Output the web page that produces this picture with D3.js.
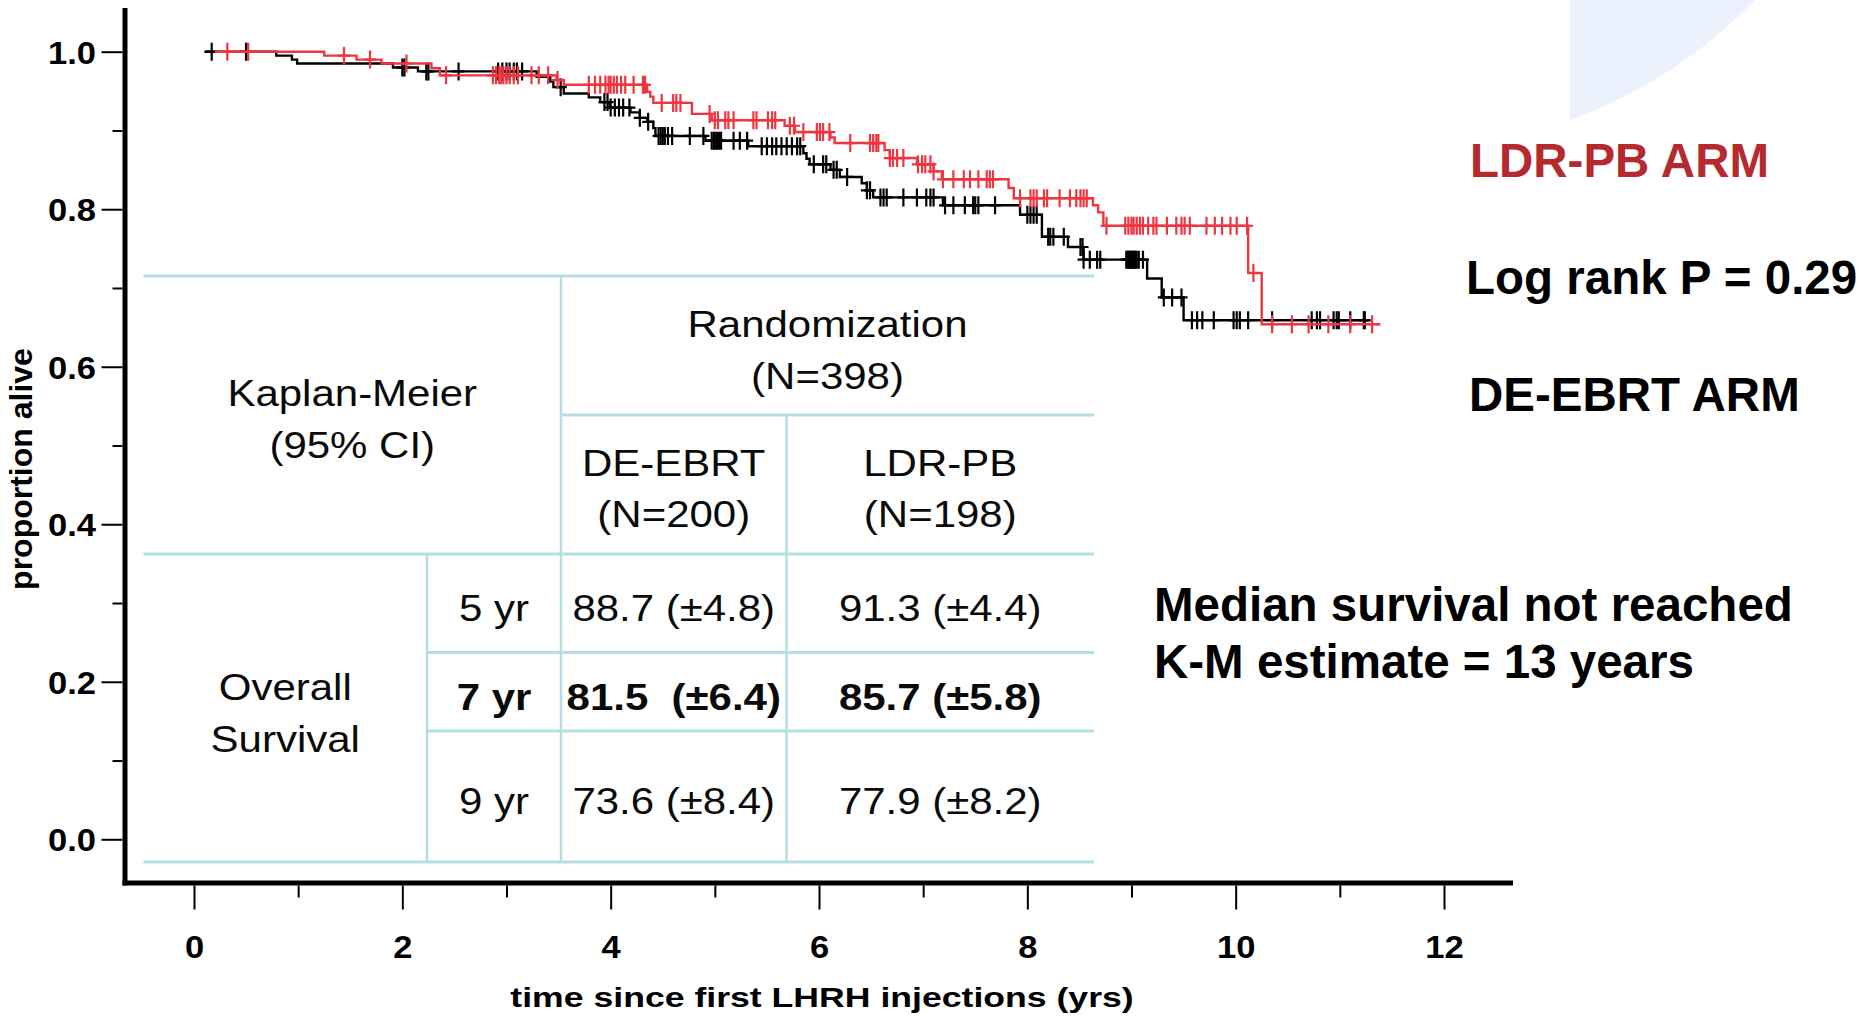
<!DOCTYPE html>
<html>
<head>
<meta charset="utf-8">
<script src="https://cdn.jsdelivr.net/npm/d3@7"></script>
<style>
  html, body { margin: 0; padding: 0; background: #fff; }
  svg { display: block; }
  text { font-family: "Liberation Sans", Arial, Helvetica, sans-serif; }
</style>
</head>
<body>
<svg id="chart" width="1876" height="1017"></svg>
<script>
// ---- Kaplan-Meier data: [time (yrs), proportion alive after the step] ----
const deebrtSteps = [
  [0.10, 1.000], [0.79, 0.995], [0.94, 0.990], [0.99, 0.985], [1.91, 0.980],
  [2.15, 0.975], [3.29, 0.968], [3.42, 0.962], [3.45, 0.955], [3.55, 0.947],
  [3.79, 0.942], [3.90, 0.936], [3.99, 0.929], [4.19, 0.923], [4.28, 0.916],
  [4.35, 0.911], [4.41, 0.903], [4.43, 0.893], [4.91, 0.887], [5.32, 0.880],
  [5.85, 0.871], [5.88, 0.864], [5.91, 0.857], [6.11, 0.850], [6.20, 0.841],
  [6.41, 0.833], [6.46, 0.824], [6.52, 0.815], [7.19, 0.805], [7.93, 0.793],
  [8.14, 0.765], [8.39, 0.752], [8.54, 0.736], [9.15, 0.712], [9.29, 0.688],
  [9.50, 0.659]
];
const deebrtEnd = 11.29;
const deebrtCensored = [
  0.17, 0.50, 2.00, 2.02, 2.23, 2.25, 2.54, 2.92, 2.96, 3.00, 3.03, 3.07, 3.10, 3.15,
  3.52, 3.94, 3.97, 4.00, 4.04, 4.08, 4.12, 4.18, 4.28, 4.36, 4.46, 4.48, 4.50, 4.52,
  4.55, 4.59, 4.76, 4.89, 4.97, 4.99, 5.00, 5.02, 5.04, 5.06, 5.18, 5.24, 5.31, 5.45,
  5.50, 5.55, 5.59, 5.64, 5.69, 5.74, 5.79, 5.82, 5.95, 6.04, 6.07, 6.14, 6.17, 6.27,
  6.46, 6.49, 6.59, 6.62, 6.65, 6.81, 6.94, 7.03, 7.07, 7.10, 7.21, 7.29, 7.40, 7.48,
  7.50, 7.53, 7.69, 8.00, 8.03, 8.06, 8.09, 8.20, 8.22, 8.25, 8.35, 8.51, 8.53, 8.54,
  8.60, 8.67, 8.70, 8.95, 8.96, 8.97, 8.98, 8.99, 9.00, 9.01, 9.02, 9.03, 9.04, 9.05,
  9.07, 9.11, 9.31, 9.39, 9.48, 9.58, 9.63, 9.68, 9.79, 9.98, 10.01, 10.04, 10.12,
  10.35, 10.73, 10.78, 10.81, 10.94, 10.97, 10.99, 11.10, 11.23, 11.24
];

const ldrpbSteps = [
  [0.20, 1.000], [1.25, 0.995], [1.56, 0.990], [1.80, 0.985], [2.28, 0.979],
  [2.36, 0.970], [3.48, 0.964], [3.55, 0.958], [4.35, 0.949], [4.38, 0.943],
  [4.41, 0.935], [4.78, 0.921], [4.97, 0.913], [5.67, 0.906], [5.77, 0.898],
  [6.11, 0.891], [6.15, 0.884], [6.63, 0.875], [6.68, 0.865], [6.94, 0.857],
  [7.10, 0.848], [7.18, 0.838], [7.82, 0.827], [7.87, 0.814], [8.63, 0.805],
  [8.68, 0.796], [8.73, 0.779], [10.12, 0.719], [10.25, 0.654]
];
const ldrpbEnd = 11.39;
const ldrpbCensored = [
  0.32, 0.52, 1.44, 1.69, 2.04, 2.42, 2.87, 2.90, 2.93, 2.95, 2.97, 3.00, 3.03, 3.07,
  3.11, 3.24, 3.31, 3.40, 3.49, 3.79, 3.85, 3.90, 3.95, 3.98, 4.00, 4.03, 4.06, 4.10,
  4.14, 4.22, 4.31, 4.33, 4.49, 4.60, 4.63, 4.67, 4.95, 5.00, 5.03, 5.10, 5.13, 5.18,
  5.37, 5.40, 5.51, 5.55, 5.58, 5.72, 5.76, 5.85, 5.98, 6.01, 6.04, 6.10, 6.30, 6.49,
  6.52, 6.55, 6.57, 6.68, 6.71, 6.75, 6.81, 6.95, 6.99, 7.02, 7.07, 7.10, 7.19, 7.29,
  7.39, 7.45, 7.53, 7.61, 7.64, 7.67, 7.93, 8.03, 8.06, 8.09, 8.16, 8.19, 8.31, 8.41,
  8.47, 8.51, 8.54, 8.57, 8.76, 8.94, 8.97, 9.00, 9.02, 9.05, 9.08, 9.11, 9.16, 9.21,
  9.24, 9.34, 9.43, 9.48, 9.51, 9.56, 9.72, 9.80, 9.87, 9.95, 10.01, 10.11, 10.17,
  10.35, 10.54, 10.70, 10.89, 11.10, 11.31
];

// ---- axes ----
const xTicks = [0, 2, 4, 6, 8, 10, 12];
const xMinorTicks = [1, 3, 5, 7, 9, 11];
const yTicks = [0.0, 0.2, 0.4, 0.6, 0.8, 1.0];
const yMinorTicks = [0.1, 0.3, 0.5, 0.7, 0.9];
const xTitle = "time since first LHRH injections (yrs)";
const yTitle = "proportion alive";

// ---- summary table ----
const kmHeader = ["Kaplan-Meier", "(95% CI)"];
const randHeader = ["Randomization", "(N=398)"];
const armHeaders = [["DE-EBRT", "(N=200)"], ["LDR-PB", "(N=198)"]];
const rowGroup = ["Overall", "Survival"];
const horizons = ["5 yr", "7 yr", "9 yr"];
const deebrtKM = [88.7, 81.5, 73.6];
const deebrtCI = [4.8, 6.4, 8.4];
const ldrpbKM = [91.3, 85.7, 77.9];
const ldrpbCI = [4.4, 5.8, 8.2];
const boldRow = 1;

// ---- annotations ----
const armLabels = ["LDR-PB ARM", "DE-EBRT ARM"];
const logRank = "Log rank P = 0.29";
const medianNote = ["Median survival not reached", "K-M estimate = 13 years"];

const RED = "#ee3640";
const TABLE_LINE = "#b5dfe3";

const svg = d3.select("#chart");
svg.append("rect").attr("width", 1876).attr("height", 1017).attr("fill", "#fff");

// decorative pale-blue disc edge in the top right corner
svg.append("path")
  .attr("d", "M1570,0 V120 A492,492 0 0 0 1755,0 Z")
  .attr("fill", "#ebf1fd");

const x = d3.scaleLinear().domain([0, 12]).range([194, 1444]);
const y = d3.scaleLinear().domain([0, 1]).range([839.3, 51.7]);

// ---- axes ----
const xAxisY = 885.5;
const yAxisX = 122.5;

const xg = svg.append("g").attr("transform", `translate(0,${xAxisY})`);
xg.call(d3.axisBottom(x).tickValues(xTicks).tickSize(24).tickSizeOuter(0).tickFormat(d3.format("d")));
xg.append("g").call(d3.axisBottom(x).tickValues(xMinorTicks).tickSize(12).tickSizeOuter(0).tickFormat(""));
xg.selectAll(".domain").remove();
xg.selectAll("line").attr("stroke", "#000").attr("stroke-width", 2);
xg.selectAll("text")
  .attr("y", null).attr("dy", null)
  .attr("transform", "translate(0,72) scale(1.08,1)")
  .attr("fill", "#000").attr("font-size", 32).attr("font-weight", "bold")
  .attr("font-family", "Liberation Sans, Arial, sans-serif");

const yg = svg.append("g").attr("transform", `translate(${yAxisX},0)`);
yg.call(d3.axisLeft(y).tickValues(yTicks).tickSize(21).tickSizeOuter(0).tickFormat(d3.format(".1f")));
yg.append("g").call(d3.axisLeft(y).tickValues(yMinorTicks).tickSize(10).tickSizeOuter(0).tickFormat(""));
yg.selectAll(".domain").remove();
yg.selectAll("line").attr("stroke", "#000").attr("stroke-width", 2);
yg.selectAll("text")
  .attr("x", null).attr("dy", "0.36em")
  .attr("transform", "translate(-26.5,0) scale(1.08,1)")
  .attr("text-anchor", "end")
  .attr("fill", "#000").attr("font-size", 32).attr("font-weight", "bold")
  .attr("font-family", "Liberation Sans, Arial, sans-serif");

// heavy axis lines
svg.append("line").attr("x1", 125).attr("x2", 125).attr("y1", 8).attr("y2", 885.5)
  .attr("stroke", "#000").attr("stroke-width", 5);
svg.append("line").attr("x1", 122.5).attr("x2", 1513).attr("y1", 883).attr("y2", 883)
  .attr("stroke", "#000").attr("stroke-width", 5);

// axis titles
svg.append("text")
  .attr("transform", "translate(822,1007) scale(1.25,1)")
  .attr("text-anchor", "middle").attr("font-size", 28.5).attr("font-weight", "bold")
  .attr("fill", "#000").text(xTitle);
svg.append("text")
  .attr("transform", "translate(32,469) rotate(-90)")
  .attr("text-anchor", "middle").attr("font-size", 32).attr("font-weight", "bold")
  .attr("fill", "#000").text(yTitle);

// ---- survival curves ----
const line = d3.line().x(d => x(d[0])).y(d => y(d[1])).curve(d3.curveStepAfter);
const bis = d3.bisector(d => d[0]).right;
function survivalAt(steps, t) {
  const i = bis(steps, t);
  return steps[Math.max(0, i - 1)][1];
}
function drawArm(steps, endT, censored, color) {
  const pts = steps.concat([[endT, steps[steps.length - 1][1]]]);
  const g = svg.append("g");
  g.append("path").attr("d", line(pts))
    .attr("fill", "none").attr("stroke", color).attr("stroke-width", 2.4);
  g.selectAll("path.cens").data(censored).join("path")
    .attr("class", "cens")
    .attr("d", t => {
      const cx = x(t), cy = y(survivalAt(steps, t));
      return `M${cx - 6},${cy}H${cx + 6}M${cx},${cy - 9}V${cy + 9}`;
    })
    .attr("fill", "none").attr("stroke", color).attr("stroke-width", 2.2);
}
drawArm(deebrtSteps, deebrtEnd, deebrtCensored, "#000");
drawArm(ldrpbSteps, ldrpbEnd, ldrpbCensored, RED);

// ---- survival table ----
const colX = [143.5, 427, 561, 786.5, 1094];
const rowY = [276, 415, 554, 652.5, 731, 862];
const hLines = [
  [rowY[0], colX[0], colX[4]], [rowY[1], colX[2], colX[4]], [rowY[2], colX[0], colX[4]],
  [rowY[3], colX[1], colX[4]], [rowY[4], colX[1], colX[4]], [rowY[5], colX[0], colX[4]]
];
const vLines = [[colX[2], rowY[0], rowY[5]], [colX[3], rowY[1], rowY[5]], [colX[1], rowY[2], rowY[5]]];
const tg = svg.append("g");
tg.selectAll("line.h").data(hLines).join("line").attr("class", "h")
  .attr("x1", d => d[1]).attr("x2", d => d[2]).attr("y1", d => d[0]).attr("y2", d => d[0])
  .attr("stroke", TABLE_LINE).attr("stroke-width", 3);
tg.selectAll("line.v").data(vLines).join("line").attr("class", "v")
  .attr("x1", d => d[0]).attr("x2", d => d[0]).attr("y1", d => d[1]).attr("y2", d => d[2])
  .attr("stroke", TABLE_LINE).attr("stroke-width", 2.5);

function cellText(str, cx, base, bold) {
  tg.append("text")
    .attr("transform", `translate(${cx},${base}) scale(1.15,1)`)
    .attr("text-anchor", "middle").attr("font-size", 36.5)
    .attr("font-weight", bold ? "bold" : "normal")
    .attr("fill", "#0a0a0a").attr("xml:space", "preserve")
    .style("white-space", "pre")
    .text(str);
}
const mid = (a, b) => (a + b) / 2;
cellText(randHeader[0], mid(colX[2], colX[4]), 337);
cellText(randHeader[1], mid(colX[2], colX[4]), 389);
cellText(kmHeader[0], mid(colX[0], colX[2]), 406);
cellText(kmHeader[1], mid(colX[0], colX[2]), 458);
armHeaders.forEach((h, i) => {
  cellText(h[0], mid(colX[2 + i], colX[3 + i]), 475.5);
  cellText(h[1], mid(colX[2 + i], colX[3 + i]), 527);
});
cellText(rowGroup[0], mid(colX[0], colX[1]), 700);
cellText(rowGroup[1], mid(colX[0], colX[1]), 751.5);
const rowBase = [620.5, 710, 814];
horizons.forEach((h, i) => {
  const b = i === boldRow;
  cellText(h, mid(colX[1], colX[2]), rowBase[i], b);
  const gap = b ? "  " : " ";
  cellText(`${deebrtKM[i].toFixed(1)}${gap}(±${deebrtCI[i].toFixed(1)})`, mid(colX[2], colX[3]), rowBase[i], b);
  cellText(`${ldrpbKM[i].toFixed(1)} (±${ldrpbCI[i].toFixed(1)})`, mid(colX[3], colX[4]), rowBase[i], b);
});

// ---- annotations on the right ----
function note(str, left, base, color) {
  svg.append("text").attr("x", left).attr("y", base)
    .attr("font-size", 47.5).attr("font-weight", "bold")
    .attr("fill", color).text(str);
}
note(armLabels[0], 1470, 177, "#b42a2e");
note(logRank, 1466, 294, "#000");
note(armLabels[1], 1469, 410.5, "#000");
note(medianNote[0], 1154, 621, "#000");
note(medianNote[1], 1154, 678, "#000");
</script>
</body>
</html>
